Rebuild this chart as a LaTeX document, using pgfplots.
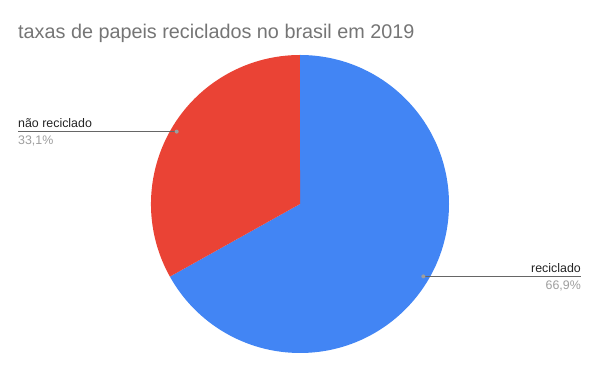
\documentclass[border=0pt]{standalone}
\usepackage{pgfplots}
\usepackage{pgfplotstable}
\pgfplotsset{compat=1.18}
\usetikzlibrary{calc}
\usepackage{fontspec}
\setmainfont{Liberation Sans}
\definecolor{gblue}{HTML}{4285F4}
\definecolor{gred}{HTML}{EA4335}
\definecolor{titlegray}{HTML}{757575}
\definecolor{linegray}{HTML}{666666}
\definecolor{dotgray}{HTML}{9E9E9E}
\definecolor{txt}{HTML}{222222}
\pgfplotstableread{
label value
reciclado 66.9
naoreciclado 33.1
}\piedata
\begin{document}
\begin{tikzpicture}
\pgfplotstablegetelem{0}{value}\of\piedata \let\va\pgfplotsretval
\pgfplotstablegetelem{1}{value}\of\piedata \let\vb\pgfplotsretval
\pgfmathsetmacro{\tot}{\va+\vb}
\pgfmathsetmacro{\aend}{90-\va/\tot*360}
\pgfmathsetmacro{\bend}{\aend-\vb/\tot*360}
\pgfmathsetmacro{\amid}{(90+\aend)/2}
\pgfmathsetmacro{\bmid}{(\aend+\bend)/2}
\begin{axis}[
  width=600pt, height=371pt, scale only axis,
  xmin=0, xmax=600, ymin=0, ymax=371,
  hide axis, clip=false,
]
\addplot[draw=none, forget plot] coordinates {(0,0) (600,371)};
% slices
\fill[gblue] (axis cs:300,167) -- ++(90:149pt) arc[start angle=90, end angle=\aend, radius=149pt] -- cycle;
\fill[gred] (axis cs:300,167) -- ++(\aend:149pt) arc[start angle=\aend, end angle=\bend, radius=149pt] -- cycle;
% leader lines
\coordinate (pa) at ($(axis cs:300,167)+(\amid:143pt)$);
\coordinate (pb) at ($(axis cs:300,167)+(\bmid:143pt)$);
\coordinate (ea) at (axis cs:581,0);
\coordinate (eb) at (axis cs:18,0);
\draw[linegray, line width=0.8pt] (pa) -- (pa -| ea);
\fill[dotgray] (pa) circle (2pt);
\draw[linegray, line width=0.8pt] (pb) -- (pb -| eb);
\fill[dotgray] (pb) circle (2pt);
\node[anchor=base east, font=\fontsize{12.4}{14}\selectfont, text=txt, inner sep=0pt] at ($(pa -| ea)+(0,4pt)$) {reciclado};
\node[anchor=north east, font=\fontsize{12.4}{14}\selectfont, text=dotgray, inner sep=0pt] at ($(pa -| ea)+(0,-4pt)$) {66,9\%};
\node[anchor=base west, font=\fontsize{12.4}{14}\selectfont, text=txt, inner sep=0pt] at ($(pb -| eb)+(0,4pt)$) {não reciclado};
\node[anchor=north west, font=\fontsize{12.4}{14}\selectfont, text=dotgray, inner sep=0pt] at ($(pb -| eb)+(0,-4pt)$) {33,1\%};
% title
\node[anchor=base west, font=\fontsize{19.8}{24}\selectfont, text=titlegray, inner sep=0pt] at (axis cs:18,332) {taxas de papeis reciclados no brasil em 2019};
\end{axis}
\pgfresetboundingbox
\path (current axis.south west) rectangle (current axis.north east);
\end{tikzpicture}
\end{document}
